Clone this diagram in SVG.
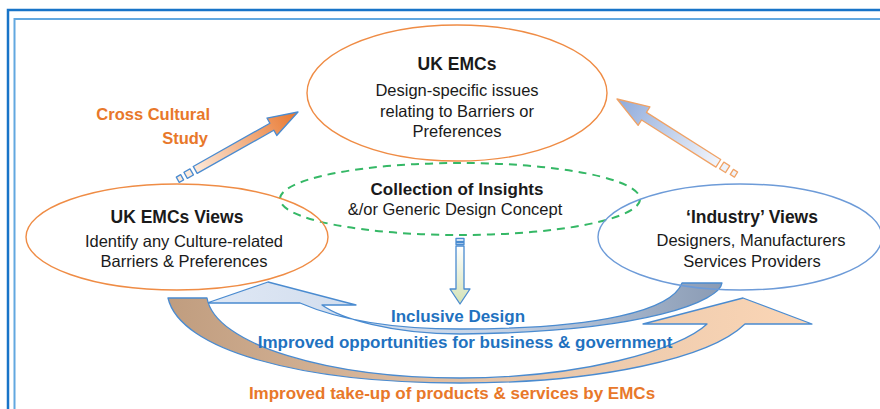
<svg xmlns="http://www.w3.org/2000/svg" width="880" height="409" viewBox="0 0 880 409">
<defs>
<linearGradient id="gOrange" x1="0" y1="0" x2="1" y2="0"><stop offset="0" stop-color="#fde9d9"/><stop offset="1" stop-color="#e8762d"/></linearGradient>
<linearGradient id="gBlueArr" x1="0" y1="0" x2="1" y2="0"><stop offset="0" stop-color="#f2f5fb"/><stop offset="1" stop-color="#8eaadb"/></linearGradient>
<linearGradient id="gDown" x1="0" y1="0" x2="0" y2="1"><stop offset="0" stop-color="#ffffff"/><stop offset="1" stop-color="#d3e2b6"/></linearGradient>
<linearGradient id="gA" gradientUnits="userSpaceOnUse" x1="207" y1="0" x2="722" y2="0"><stop offset="0" stop-color="#dfe8f5"/><stop offset="0.55" stop-color="#c6d3e6"/><stop offset="1" stop-color="#8a9bb4"/></linearGradient>
<linearGradient id="gB" gradientUnits="userSpaceOnUse" x1="168" y1="0" x2="812" y2="0"><stop offset="0" stop-color="#c09d7f"/><stop offset="0.5" stop-color="#e5c4a8"/><stop offset="1" stop-color="#fbd6b6"/></linearGradient>
<clipPath id="clipInd"><rect x="600" y="180" width="248" height="120"/></clipPath>
<style>
text{font-family:"Liberation Sans",Arial,sans-serif;}
.t{font-size:16.5px;fill:#1a1a1a;text-anchor:middle;}
.h{font-size:17.5px;font-weight:bold;fill:#1a1a1a;text-anchor:middle;}
.or{fill:#e8782a;font-weight:bold;}
.bl{fill:#1f72c0;font-weight:bold;font-size:17px;text-anchor:middle;}
.eo{fill:none;stroke:#ef8c45;stroke-width:1.4;}
.eb{fill:none;stroke:#6d9bd8;stroke-width:1.4;}
.eg{fill:none;stroke:#35b866;stroke-width:2;stroke-dasharray:8 6;}
.ab{stroke:#4a8bd0;stroke-width:1.3;stroke-linejoin:round;}
.ao{stroke:#f0a265;stroke-width:1.3;stroke-linejoin:round;}
</style>
</defs>
<rect width="880" height="409" fill="#ffffff"/>
<rect x="8" y="10" width="900" height="420" fill="none" stroke="#1874c8" stroke-width="2.5"/>
<rect x="14.5" y="19" width="900" height="420" fill="none" stroke="#62a8e0" stroke-width="2"/>

<g id="connectors">
<g id="arrow-cross-cultural" transform="translate(298,112) rotate(-29.4)">
<path class="ab" fill="url(#gOrange)" d="M-118,-4 L-30,-4 L-30,-10 L0,0 L-30,10 L-30,4 L-118,4 Z"/>
<rect class="ab" x="-129" y="-3.5" width="7" height="7" fill="#fde9d9"/>
<rect class="ab" x="-138" y="-3" width="5" height="6" fill="#fde9d9"/>
</g>
<g id="arrow-industry" transform="translate(617,99) rotate(-147.6)">
<path class="ao" fill="url(#gBlueArr)" d="M-120,-4.5 L-32,-4.5 L-32,-11 L0,0 L-32,11 L-32,4.5 L-120,4.5 Z" transform="scale(1,-1)"/>
<rect class="ao" x="-131" y="-4" width="7" height="8" fill="#eef2f9"/>
<rect class="ao" x="-141" y="-3" width="5" height="6" fill="#eef2f9"/>
</g>
<g id="arrow-down">
<rect class="ab" x="456" y="238.5" width="8" height="3" fill="#ffffff"/>
<rect class="ab" x="456" y="242.5" width="8" height="2" fill="#ffffff"/>
<path class="ab" fill="url(#gDown)" d="M456,246 L464,246 L464,289 L470,289 L460,304 L450,289 L456,289 Z"/>
</g>
<path id="arrow-A" class="ab" fill="url(#gA)" d="M682,283 L722,283 C720,300 650,332 460,334 C390,334 340,318 322,305 L356,305 L268,282 L207,303 L300,303 C330,316 380,329 460,329 C600,329 672,310 682,283 Z"/>
<path id="arrow-B" class="ab" fill="url(#gB)" d="M168,298 L207,298 C215,345 330,378 460,378 C580,378 680,350 707,324 L643,324 L743,298 L812,324 L745,324 C710,358 600,383 460,383 C300,383 180,350 168,298 Z"/>
</g>

<g id="node-uk-emcs">
<ellipse class="eo" cx="457" cy="93" rx="150" ry="68"/>
<text class="h" x="457" y="70">UK EMCs</text>
<text class="t" x="457" y="96">Design-specific issues</text>
<text class="t" x="457" y="117">relating to Barriers or</text>
<text class="t" x="457" y="137">Preferences</text>
</g>
<g id="node-insights">
<ellipse class="eg" cx="460" cy="199" rx="180" ry="36"/>
<text class="h" x="457" y="195" style="font-size:17px">Collection of Insights</text>
<text class="t" x="455" y="215">&amp;/or Generic Design Concept</text>
</g>
<g id="node-uk-views">
<ellipse class="eo" cx="177" cy="237" rx="151" ry="53"/>
<text class="h" x="177" y="223">UK EMCs Views</text>
<text class="t" x="184" y="247">Identify any Culture-related</text>
<text class="t" x="184" y="267">Barriers &amp; Preferences</text>
</g>
<g id="node-industry">
<ellipse class="eb" cx="740" cy="237" rx="142" ry="53"/>
<text class="h" x="752" y="223">‘Industry’ Views</text>
<text class="t" x="751" y="246" clip-path="url(#clipInd)">Designers, Manufacturers</text>
<text class="t" x="752" y="267">Services Providers</text>
</g>
<g id="labels">
<text class="or" x="210" y="120" text-anchor="end" font-size="16.5">Cross Cultural</text>
<text class="or" x="208" y="144" text-anchor="end" font-size="16.5">Study</text>
<text class="bl" x="458" y="322">Inclusive Design</text>
<text class="bl" x="465" y="348">Improved opportunities for business &amp; government</text>
<text class="or" x="452" y="399" text-anchor="middle" font-size="17">Improved take-up of products &amp; services by EMCs</text>
</g>
</svg>
